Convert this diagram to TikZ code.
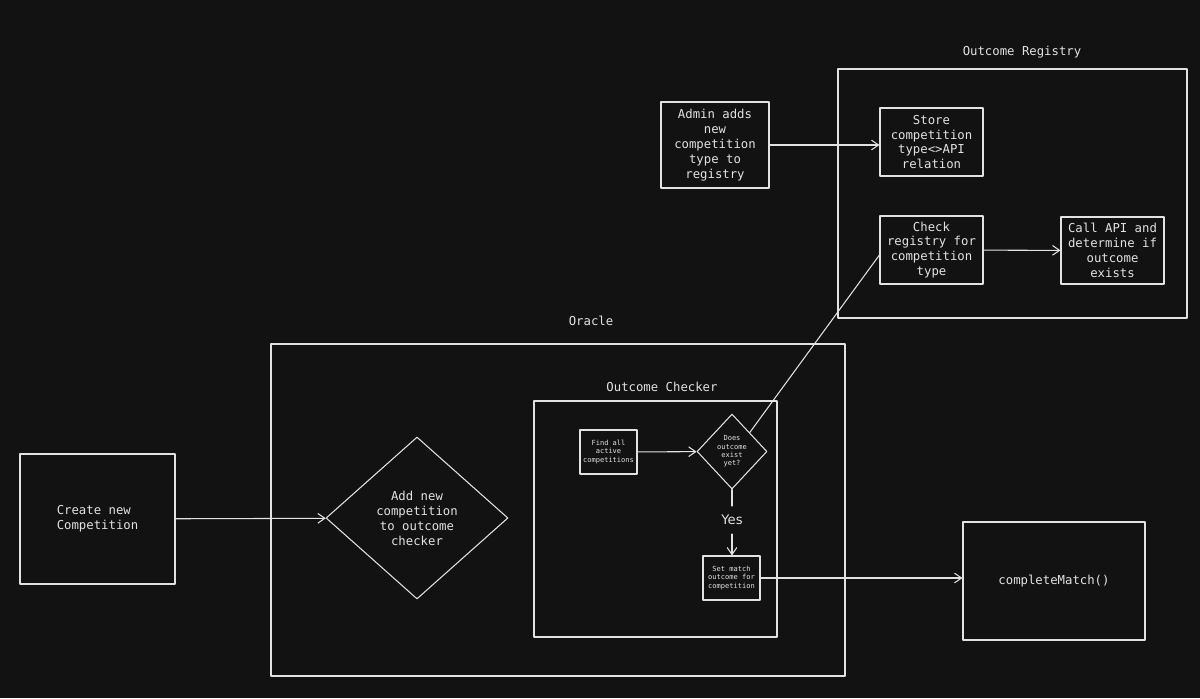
\documentclass[tikz,border=0pt]{standalone}
\usepackage{fontspec}
\setmonofont{DejaVu Sans Mono}
\setsansfont{DejaVu Sans}
\usetikzlibrary{shapes.geometric,arrows.meta}
\definecolor{bgdark}{HTML}{121212}
\definecolor{inkgray}{HTML}{E2E2E2}
\begin{document}
\begin{tikzpicture}[x=0.02cm,y=-0.02cm,line join=round,line cap=round,>={Straight Barb[length=4pt,width=5.5pt]},
  every node/.style={text=inkgray},
  dims/.style 2 args={minimum width=#1*0.02cm,minimum height=#2*0.02cm},
  txt/.style={font=\ttfamily\fontsize{7}{8.5}\selectfont,align=center},
  tiny/.style={font=\ttfamily\fontsize{4}{4.8}\selectfont,align=center},
  box/.style={draw=inkgray,line width=0.6pt,inner sep=0pt,fill=bgdark},
  frame/.style={draw=inkgray,line width=0.6pt,inner sep=0pt},
  choice/.style={box,diamond,aspect=1},
  link/.style={draw=inkgray,line width=0.6pt}]
\fill[bgdark] (0,0) rectangle (1200,698);
\node[frame,dims={574}{332}] (oracle) at (558,510) {};
\node[frame,dims={243}{236}] (checker) at (655.5,519) {};
\node[frame,dims={349}{249}] (registry) at (1012.5,193.5) {};
\node[txt] (oraclelbl) at (591,321) {Oracle};
\node[txt] (checkerlbl) at (662,387) {Outcome Checker};
\node[txt] (registrylbl) at (1022,52) {Outcome Registry};
\node[box,txt,align=left,dims={155}{130}] (create) at (97.5,519) {Create new\\Competition};
\node[choice,txt,dims={182}{162}] (addnew) at (417,518) {Add new\\competition\\to outcome\\checker};
\node[box,tiny,dims={57}{44}] (find) at (608.5,452) {Find all\\active\\competitions};
\node[choice,tiny,dims={70}{75}] (does) at (732,451.5) {Does\\outcome\\exist\\yet?};
\node[font=\sffamily\fontsize{7.5}{9}\selectfont,inner sep=5pt] (yes) at (732,520) {Yes};
\node[box,tiny,dims={57}{44}] (setmatch) at (731.5,578) {Set match\\outcome for\\competition};
\node[box,txt,dims={182}{118}] (complete) at (1054,581) {completeMatch()};
\node[box,txt,dims={108}{86}] (admin) at (715,145) {Admin adds\\new\\competition\\type to\\registry};
\node[box,txt,dims={103}{68}] (store) at (931.5,142) {Store\\competition\\type<>API\\relation};
\node[box,txt,dims={103}{68}] (checkreg) at (931.5,250) {Check\\registry for\\competition\\type};
\node[box,txt,dims={103}{67}] (callapi) at (1112.5,250.5) {Call API and\\determine if\\outcome\\exists};
\foreach \a/\b in {create/addnew, find/does, checkreg/callapi}
\draw[link,->] (\a) -- (\b);
\draw[link,->] (admin.east) -- (admin.east -| store.west);
\draw[link,->] (setmatch.east) -- (setmatch.east -| complete.west);
\draw[link] (does.south) -- (yes.north);
\draw[link,->] (yes.south) -- (yes.south |- setmatch.north);
\draw[link] (does.north east) -- ([yshift=-2.8pt]checkreg.west);
\end{tikzpicture}
\end{document}
